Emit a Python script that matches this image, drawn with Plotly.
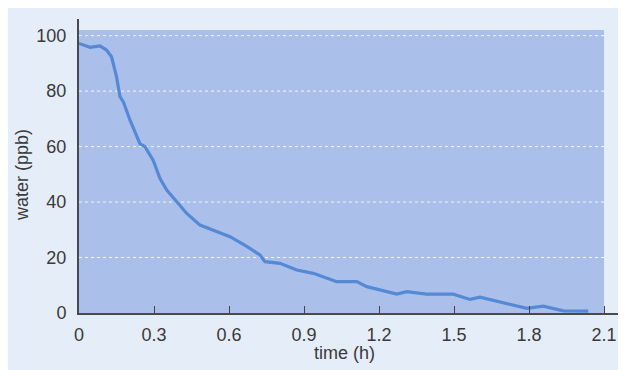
import plotly.graph_objects as go

# Data
time_h = [0, 0.044, 0.084, 0.11, 0.13, 0.15, 0.164, 0.178, 0.204, 0.237, 0.244,
          0.264, 0.297, 0.324, 0.351, 0.391, 0.431, 0.484, 0.537, 0.604, 0.671,
          0.724, 0.744, 0.804, 0.871, 0.937, 1.031, 1.111, 1.151, 1.217, 1.271,
          1.311, 1.364, 1.391, 1.497, 1.564, 1.604, 1.684, 1.791, 1.857, 1.897,
          1.937, 2.037]
water_ppb = [97.2, 95.8, 96.3, 94.8, 92.4, 85.2, 78, 76, 69.5, 62.5, 61,
             60, 55, 48.5, 44.3, 40.1, 35.9, 31.7, 29.9, 27.5, 24,
             20.9, 18.5, 17.9, 15.5, 14.3, 11.3, 11.3, 9.5, 8.0, 6.8,
             7.7, 7.1, 6.8, 6.8, 4.9, 5.7, 4.1, 1.7, 2.5, 1.7,
             0.8, 0.7]

x_ticks = [0, 0.3, 0.6, 0.9, 1.2, 1.5, 1.8, 2.1]
x_ticklabels = ["0", "0.3", "0.6", "0.9", "1.2", "1.5", "1.8", "2.1"]
y_ticks = [0, 20, 40, 60, 80, 100]
y_ticklabels = ["0", "20", "40", "60", "80", "100"]
grid_values = [20, 40, 60, 80, 100]
x_max_shaded = 2.1
y_max_shaded = 102

font_family = "Liberation Sans, Arial, sans-serif"
text_color = "#3a3a3a"

fig = go.Figure()
fig.add_trace(go.Scatter(
    x=time_h, y=water_ppb, mode="lines",
    line=dict(color="#5589d6", width=3.2),
    hoverinfo="skip", showlegend=False,
))

shapes = [
    # darker data area
    dict(type="rect", xref="x", yref="y", x0=0, x1=x_max_shaded, y0=0, y1=y_max_shaded,
         fillcolor="#aac0ea", line=dict(width=0), layer="below"),
]
for g in grid_values:
    shapes.append(dict(type="line", xref="x", yref="y", x0=0, x1=x_max_shaded, y0=g, y1=g,
                       line=dict(color="rgba(255,255,255,0.85)", width=1, dash="dot"),
                       layer="below"))

# The page body has an 8px margin, so the figure is sized to fill the rest
fig.update_layout(
    width=618, height=362,
    margin=dict(l=71, r=6, t=11, b=57),
    paper_bgcolor="#e5edf9",
    plot_bgcolor="rgba(0,0,0,0)",
    font=dict(family=font_family, size=18, color=text_color),
    shapes=shapes,
    xaxis=dict(
        range=[0, 2.164], tickmode="array", tickvals=x_ticks, ticktext=x_ticklabels,
        ticks="inside", ticklen=7, tickwidth=1.2, tickcolor="#444",
        showgrid=False, zeroline=False, showline=True, linecolor="#4a4a4a", linewidth=2,
        ticklabelstandoff=4, automargin=False,
        tickfont=dict(size=18, color=text_color),
    ),
    yaxis=dict(
        range=[0, 106], tickmode="array", tickvals=y_ticks, ticktext=y_ticklabels,
        ticks="", showgrid=False, zeroline=False, showline=True,
        linecolor="#4a4a4a", linewidth=2, ticklabelstandoff=7, automargin=False,
        tickfont=dict(size=18, color=text_color),
    ),
    annotations=[
        dict(text="time (h)", xref="paper", yref="paper", x=0.49, y=-0.136,
             showarrow=False, xanchor="center", yanchor="middle",
             font=dict(size=18, color=text_color)),
        dict(text="water (ppb)", xref="paper", yref="paper", x=-0.105, y=0.47,
             textangle=-90, showarrow=False, xanchor="center", yanchor="middle",
             font=dict(size=18, color=text_color)),
    ],
)

fig.write_html("out.html")
